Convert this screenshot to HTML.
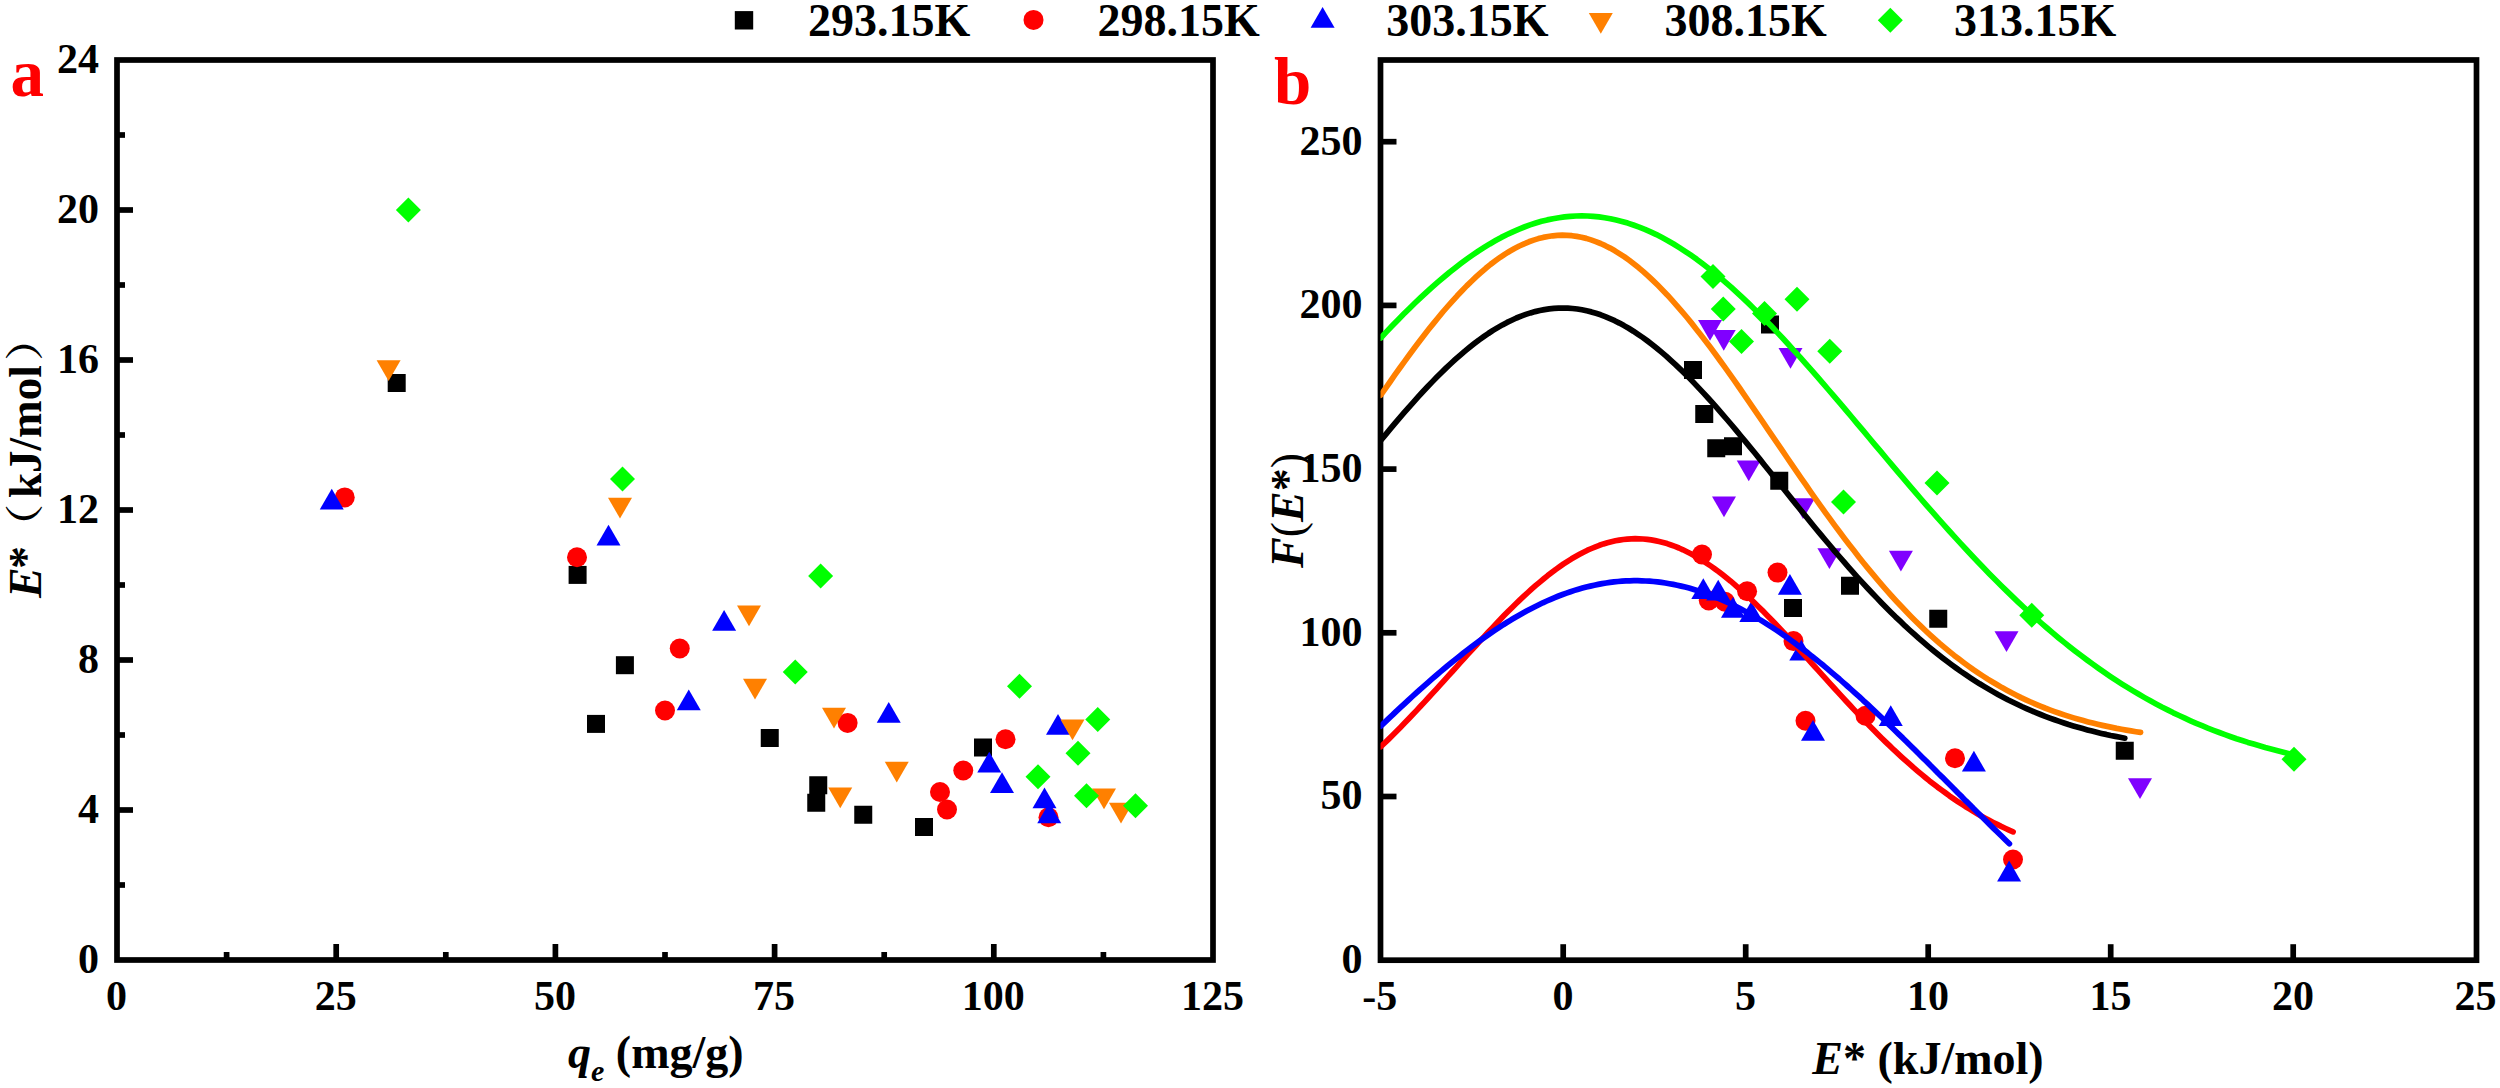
<!DOCTYPE html>
<html lang="en"><head><meta charset="utf-8"><title>E* vs q_e and F(E*) distribution</title>
<style>html,body{margin:0;padding:0;background:#fff}body{width:2500px;height:1088px;overflow:hidden}svg text{white-space:pre}</style>
</head><body>
<svg width="2500" height="1088" viewBox="0 0 2500 1088" style="display:block">
<rect width="2500" height="1088" fill="#ffffff"/>
<g id="pa-data">
<rect x="387.70" y="374.00" width="18.0" height="18.0" fill="#000000"/>
<rect x="568.60" y="565.90" width="18.0" height="18.0" fill="#000000"/>
<rect x="587.00" y="714.90" width="18.0" height="18.0" fill="#000000"/>
<rect x="615.90" y="656.20" width="18.0" height="18.0" fill="#000000"/>
<rect x="760.75" y="729.00" width="18.0" height="18.0" fill="#000000"/>
<rect x="809.25" y="776.25" width="18.0" height="18.0" fill="#000000"/>
<rect x="807.25" y="793.75" width="18.0" height="18.0" fill="#000000"/>
<rect x="854.25" y="805.75" width="18.0" height="18.0" fill="#000000"/>
<rect x="915.00" y="818.00" width="18.0" height="18.0" fill="#000000"/>
<rect x="974.00" y="738.50" width="18.0" height="18.0" fill="#000000"/>
<circle cx="344.75" cy="497.40" r="10.0" fill="#ff0000"/>
<circle cx="577.00" cy="557.25" r="10.0" fill="#ff0000"/>
<circle cx="665.00" cy="710.50" r="10.0" fill="#ff0000"/>
<circle cx="679.75" cy="648.50" r="10.0" fill="#ff0000"/>
<circle cx="847.60" cy="722.90" r="10.0" fill="#ff0000"/>
<circle cx="1005.50" cy="739.25" r="10.0" fill="#ff0000"/>
<circle cx="963.25" cy="770.50" r="10.0" fill="#ff0000"/>
<circle cx="940.00" cy="792.00" r="10.0" fill="#ff0000"/>
<circle cx="947.00" cy="809.50" r="10.0" fill="#ff0000"/>
<circle cx="1048.50" cy="817.25" r="10.0" fill="#ff0000"/>
<polygon points="331.75,488.75 319.75,509.55 343.75,509.55" fill="#0000ff"/>
<polygon points="608.50,524.75 596.50,545.55 620.50,545.55" fill="#0000ff"/>
<polygon points="724.10,610.00 712.10,630.80 736.10,630.80" fill="#0000ff"/>
<polygon points="688.75,689.50 676.75,710.30 700.75,710.30" fill="#0000ff"/>
<polygon points="888.75,702.00 876.75,722.80 900.75,722.80" fill="#0000ff"/>
<polygon points="1058.00,714.00 1046.00,734.80 1070.00,734.80" fill="#0000ff"/>
<polygon points="989.25,751.75 977.25,772.55 1001.25,772.55" fill="#0000ff"/>
<polygon points="1002.00,772.25 990.00,793.05 1014.00,793.05" fill="#0000ff"/>
<polygon points="1044.50,787.50 1032.50,808.30 1056.50,808.30" fill="#0000ff"/>
<polygon points="1049.25,802.50 1037.25,823.30 1061.25,823.30" fill="#0000ff"/>
<polygon points="376.60,360.20 400.60,360.20 388.60,381.00" fill="#ff8000"/>
<polygon points="608.00,497.75 632.00,497.75 620.00,518.55" fill="#ff8000"/>
<polygon points="737.00,605.50 761.00,605.50 749.00,626.30" fill="#ff8000"/>
<polygon points="743.00,678.75 767.00,678.75 755.00,699.55" fill="#ff8000"/>
<polygon points="822.00,707.75 846.00,707.75 834.00,728.55" fill="#ff8000"/>
<polygon points="1060.50,719.50 1084.50,719.50 1072.50,740.30" fill="#ff8000"/>
<polygon points="884.75,761.75 908.75,761.75 896.75,782.55" fill="#ff8000"/>
<polygon points="828.25,787.50 852.25,787.50 840.25,808.30" fill="#ff8000"/>
<polygon points="1092.00,788.50 1116.00,788.50 1104.00,809.30" fill="#ff8000"/>
<polygon points="1109.00,802.75 1133.00,802.75 1121.00,823.55" fill="#ff8000"/>
<polygon points="408.40,197.40 420.90,209.90 408.40,222.40 395.90,209.90" fill="#00ff00"/>
<polygon points="622.50,466.40 635.00,478.90 622.50,491.40 610.00,478.90" fill="#00ff00"/>
<polygon points="820.60,563.40 833.10,575.90 820.60,588.40 808.10,575.90" fill="#00ff00"/>
<polygon points="795.25,659.50 807.75,672.00 795.25,684.50 782.75,672.00" fill="#00ff00"/>
<polygon points="1019.50,673.75 1032.00,686.25 1019.50,698.75 1007.00,686.25" fill="#00ff00"/>
<polygon points="1097.75,707.00 1110.25,719.50 1097.75,732.00 1085.25,719.50" fill="#00ff00"/>
<polygon points="1078.00,740.75 1090.50,753.25 1078.00,765.75 1065.50,753.25" fill="#00ff00"/>
<polygon points="1038.00,764.25 1050.50,776.75 1038.00,789.25 1025.50,776.75" fill="#00ff00"/>
<polygon points="1086.50,783.25 1099.00,795.75 1086.50,808.25 1074.00,795.75" fill="#00ff00"/>
<polygon points="1135.50,793.25 1148.00,805.75 1135.50,818.25 1123.00,805.75" fill="#00ff00"/>
</g>
<g id="pb-data">
<rect x="1761.00" y="315.50" width="18.0" height="18.0" fill="#000000"/>
<rect x="1684.00" y="361.00" width="18.0" height="18.0" fill="#000000"/>
<rect x="1695.25" y="405.00" width="18.0" height="18.0" fill="#000000"/>
<rect x="1707.25" y="439.25" width="18.0" height="18.0" fill="#000000"/>
<rect x="1724.00" y="437.25" width="18.0" height="18.0" fill="#000000"/>
<rect x="1770.25" y="471.75" width="18.0" height="18.0" fill="#000000"/>
<rect x="1841.00" y="576.75" width="18.0" height="18.0" fill="#000000"/>
<rect x="1784.00" y="599.00" width="18.0" height="18.0" fill="#000000"/>
<rect x="1929.25" y="609.75" width="18.0" height="18.0" fill="#000000"/>
<rect x="2115.75" y="741.75" width="18.0" height="18.0" fill="#000000"/>
<circle cx="1702.00" cy="554.50" r="10.0" fill="#ff0000"/>
<circle cx="1777.50" cy="572.60" r="10.0" fill="#ff0000"/>
<circle cx="1747.10" cy="591.20" r="10.0" fill="#ff0000"/>
<circle cx="1708.75" cy="600.50" r="10.0" fill="#ff0000"/>
<circle cx="1725.00" cy="601.75" r="10.0" fill="#ff0000"/>
<circle cx="1793.50" cy="641.10" r="10.0" fill="#ff0000"/>
<circle cx="1805.50" cy="720.75" r="10.0" fill="#ff0000"/>
<circle cx="1865.50" cy="715.80" r="10.0" fill="#ff0000"/>
<circle cx="1955.00" cy="758.25" r="10.0" fill="#ff0000"/>
<circle cx="2013.00" cy="859.50" r="10.0" fill="#ff0000"/>
<polygon points="1703.30,578.30 1691.30,599.10 1715.30,599.10" fill="#0000ff"/>
<polygon points="1718.20,579.80 1706.20,600.60 1730.20,600.60" fill="#0000ff"/>
<polygon points="1789.90,573.90 1777.90,594.70 1801.90,594.70" fill="#0000ff"/>
<polygon points="1733.00,597.00 1721.00,617.80 1745.00,617.80" fill="#0000ff"/>
<polygon points="1751.30,601.30 1739.30,622.10 1763.30,622.10" fill="#0000ff"/>
<polygon points="1801.30,639.80 1789.30,660.60 1813.30,660.60" fill="#0000ff"/>
<polygon points="1813.00,720.00 1801.00,740.80 1825.00,740.80" fill="#0000ff"/>
<polygon points="1890.75,705.20 1878.75,726.00 1902.75,726.00" fill="#0000ff"/>
<polygon points="1973.90,750.75 1961.90,771.55 1985.90,771.55" fill="#0000ff"/>
<polygon points="2009.10,860.60 1997.10,881.40 2021.10,881.40" fill="#0000ff"/>
<polygon points="1698.00,320.00 1722.00,320.00 1710.00,340.80" fill="#8000ff"/>
<polygon points="1711.75,330.00 1735.75,330.00 1723.75,350.80" fill="#8000ff"/>
<polygon points="1778.50,348.00 1802.50,348.00 1790.50,368.80" fill="#8000ff"/>
<polygon points="1736.75,460.50 1760.75,460.50 1748.75,481.30" fill="#8000ff"/>
<polygon points="1712.00,496.50 1736.00,496.50 1724.00,517.30" fill="#8000ff"/>
<polygon points="1791.00,498.25 1815.00,498.25 1803.00,519.05" fill="#8000ff"/>
<polygon points="1817.40,548.30 1841.40,548.30 1829.40,569.10" fill="#8000ff"/>
<polygon points="1888.90,550.75 1912.90,550.75 1900.90,571.55" fill="#8000ff"/>
<polygon points="1994.50,631.25 2018.50,631.25 2006.50,652.05" fill="#8000ff"/>
<polygon points="2128.00,778.25 2152.00,778.25 2140.00,799.05" fill="#8000ff"/>
<polygon points="1713.00,264.00 1725.50,276.50 1713.00,289.00 1700.50,276.50" fill="#00ff00"/>
<polygon points="1723.25,296.50 1735.75,309.00 1723.25,321.50 1710.75,309.00" fill="#00ff00"/>
<polygon points="1741.50,329.00 1754.00,341.50 1741.50,354.00 1729.00,341.50" fill="#00ff00"/>
<polygon points="1764.50,301.00 1777.00,313.50 1764.50,326.00 1752.00,313.50" fill="#00ff00"/>
<polygon points="1797.00,286.75 1809.50,299.25 1797.00,311.75 1784.50,299.25" fill="#00ff00"/>
<polygon points="1829.75,338.75 1842.25,351.25 1829.75,363.75 1817.25,351.25" fill="#00ff00"/>
<polygon points="1937.00,470.40 1949.50,482.90 1937.00,495.40 1924.50,482.90" fill="#00ff00"/>
<polygon points="1843.50,489.50 1856.00,502.00 1843.50,514.50 1831.00,502.00" fill="#00ff00"/>
<polygon points="2031.75,602.75 2044.25,615.25 2031.75,627.75 2019.25,615.25" fill="#00ff00"/>
<polygon points="2294.00,746.75 2306.50,759.25 2294.00,771.75 2281.50,759.25" fill="#00ff00"/>
</g>
<g id="axes" stroke="#000" stroke-width="5.7" fill="none">
<rect x="117.0" y="60.0" width="1096.0" height="900.0" fill="none" stroke="#000" stroke-width="5.7"/>
<rect x="1380.5" y="60.0" width="1096.0" height="900.2" fill="none" stroke="#000" stroke-width="5.7"/>
<line x1="117.0" x2="125.0" y1="885.00" y2="885.00"/>
<line x1="117.0" x2="133.0" y1="810.00" y2="810.00"/>
<line x1="117.0" x2="125.0" y1="735.00" y2="735.00"/>
<line x1="117.0" x2="133.0" y1="660.00" y2="660.00"/>
<line x1="117.0" x2="125.0" y1="585.00" y2="585.00"/>
<line x1="117.0" x2="133.0" y1="510.00" y2="510.00"/>
<line x1="117.0" x2="125.0" y1="435.00" y2="435.00"/>
<line x1="117.0" x2="133.0" y1="360.00" y2="360.00"/>
<line x1="117.0" x2="125.0" y1="285.00" y2="285.00"/>
<line x1="117.0" x2="133.0" y1="210.00" y2="210.00"/>
<line x1="117.0" x2="125.0" y1="135.00" y2="135.00"/>
<line x1="226.60" x2="226.60" y1="960.0" y2="952.0"/>
<line x1="336.20" x2="336.20" y1="960.0" y2="944.0"/>
<line x1="445.80" x2="445.80" y1="960.0" y2="952.0"/>
<line x1="555.40" x2="555.40" y1="960.0" y2="944.0"/>
<line x1="665.00" x2="665.00" y1="960.0" y2="952.0"/>
<line x1="774.60" x2="774.60" y1="960.0" y2="944.0"/>
<line x1="884.20" x2="884.20" y1="960.0" y2="952.0"/>
<line x1="993.80" x2="993.80" y1="960.0" y2="944.0"/>
<line x1="1103.40" x2="1103.40" y1="960.0" y2="952.0"/>
<line x1="1380.5" x2="1396.5" y1="796.50" y2="796.50"/>
<line x1="1380.5" x2="1396.5" y1="632.80" y2="632.80"/>
<line x1="1380.5" x2="1396.5" y1="469.10" y2="469.10"/>
<line x1="1380.5" x2="1396.5" y1="305.40" y2="305.40"/>
<line x1="1380.5" x2="1396.5" y1="141.70" y2="141.70"/>
<line x1="1563.20" x2="1563.20" y1="960.2" y2="944.2"/>
<line x1="1745.70" x2="1745.70" y1="960.2" y2="944.2"/>
<line x1="1928.20" x2="1928.20" y1="960.2" y2="944.2"/>
<line x1="2110.70" x2="2110.70" y1="960.2" y2="944.2"/>
<line x1="2293.20" x2="2293.20" y1="960.2" y2="944.2"/>
</g>
<defs><clipPath id="clipb"><rect x="1380.50" y="60.00" width="1096.00" height="900.20"/></clipPath></defs>
<g id="pb-curves" fill="none" stroke-width="5.7" stroke-linecap="round" stroke-linejoin="round" clip-path="url(#clipb)">
<polyline points="1380.7,440.4 1385.4,434.8 1390.1,429.2 1394.7,423.6 1399.4,418.1 1404.1,412.7 1408.8,407.3 1413.5,402.1 1418.1,396.9 1422.8,391.8 1427.5,386.8 1432.2,381.9 1436.9,377.1 1441.5,372.5 1446.2,367.9 1450.9,363.5 1455.6,359.2 1460.3,355.1 1464.9,351.1 1469.6,347.3 1474.3,343.6 1479.0,340.0 1483.7,336.7 1488.3,333.5 1493.0,330.4 1497.7,327.6 1502.4,324.9 1507.1,322.4 1511.7,320.2 1516.4,318.0 1521.1,316.1 1525.8,314.4 1530.5,312.9 1535.1,311.6 1539.8,310.5 1544.5,309.6 1549.2,308.9 1553.9,308.4 1558.5,308.1 1563.2,308.0 1567.9,308.2 1572.6,308.5 1577.3,309.0 1581.9,309.8 1586.6,310.8 1591.3,311.9 1596.0,313.3 1600.7,314.8 1605.3,316.6 1610.0,318.6 1614.7,320.7 1619.4,323.1 1624.0,325.6 1628.7,328.3 1633.4,331.2 1638.1,334.3 1642.8,337.5 1647.4,340.9 1652.1,344.5 1656.8,348.2 1661.5,352.1 1666.2,356.1 1670.8,360.3 1675.5,364.6 1680.2,369.1 1684.9,373.6 1689.6,378.3 1694.2,383.1 1698.9,388.1 1703.6,393.1 1708.3,398.2 1713.0,403.4 1717.6,408.7 1722.3,414.1 1727.0,419.5 1731.7,425.0 1736.4,430.6 1741.0,436.2 1745.7,441.9 1750.4,447.6 1755.1,453.3 1759.8,459.1 1764.4,464.9 1769.1,470.7 1773.8,476.6 1778.5,482.4 1783.2,488.2 1787.8,494.1 1792.5,499.9 1797.2,505.7 1801.9,511.5 1806.6,517.3 1811.2,523.0 1815.9,528.7 1820.6,534.3 1825.3,540.0 1830.0,545.5 1834.6,551.1 1839.3,556.5 1844.0,561.9 1848.7,567.3 1853.4,572.6 1858.0,577.8 1862.7,582.9 1867.4,588.0 1872.1,593.0 1876.8,597.9 1881.4,602.7 1886.1,607.5 1890.8,612.2 1895.5,616.8 1900.2,621.2 1904.8,625.7 1909.5,630.0 1914.2,634.2 1918.9,638.4 1923.6,642.4 1928.2,646.4 1932.9,650.2 1937.6,654.0 1942.3,657.7 1947.0,661.3 1951.6,664.7 1956.3,668.1 1961.0,671.5 1965.7,674.7 1970.4,677.8 1975.0,680.8 1979.7,683.8 1984.4,686.6 1989.1,689.4 1993.8,692.1 1998.4,694.7 2003.1,697.2 2007.8,699.7 2012.5,702.0 2017.2,704.3 2021.8,706.5 2026.5,708.6 2031.2,710.6 2035.9,712.6 2040.6,714.5 2045.2,716.3 2049.9,718.1 2054.6,719.8 2059.3,721.4 2064.0,723.0 2068.6,724.5 2073.3,725.9 2078.0,727.3 2082.7,728.6 2087.4,729.9 2092.0,731.1 2096.7,732.3 2101.4,733.4 2106.1,734.4 2110.7,735.5 2115.4,736.4 2120.1,737.3 2124.8,738.2" stroke="#000000"/>
<polyline points="1380.7,746.8 1384.7,743.0 1388.7,739.1 1392.6,735.2 1396.6,731.2 1400.6,727.2 1404.6,723.1 1408.5,719.0 1412.5,714.8 1416.5,710.6 1420.5,706.3 1424.4,702.1 1428.4,697.8 1432.4,693.4 1436.4,689.1 1440.4,684.7 1444.3,680.3 1448.3,675.9 1452.3,671.5 1456.3,667.1 1460.2,662.7 1464.2,658.3 1468.2,653.9 1472.2,649.5 1476.2,645.2 1480.1,640.9 1484.1,636.6 1488.1,632.3 1492.1,628.1 1496.0,623.9 1500.0,619.7 1504.0,615.6 1508.0,611.6 1511.9,607.7 1515.9,603.8 1519.9,599.9 1523.9,596.2 1527.9,592.5 1531.8,588.9 1535.8,585.4 1539.8,582.1 1543.8,578.8 1547.7,575.6 1551.7,572.5 1555.7,569.5 1559.7,566.7 1563.6,563.9 1567.6,561.3 1571.6,558.8 1575.6,556.5 1579.6,554.3 1583.5,552.2 1587.5,550.2 1591.5,548.5 1595.5,546.8 1599.4,545.3 1603.4,543.9 1607.4,542.7 1611.4,541.7 1615.4,540.8 1619.3,540.1 1623.3,539.5 1627.3,539.1 1631.3,538.8 1635.2,538.7 1639.2,538.8 1643.2,539.0 1647.2,539.4 1651.1,539.9 1655.1,540.6 1659.1,541.5 1663.1,542.5 1667.1,543.6 1671.0,545.0 1675.0,546.4 1679.0,548.0 1683.0,549.8 1686.9,551.7 1690.9,553.7 1694.9,555.9 1698.9,558.2 1702.8,560.7 1706.8,563.3 1710.8,566.0 1714.8,568.8 1718.8,571.7 1722.7,574.8 1726.7,578.0 1730.7,581.2 1734.7,584.6 1738.6,588.1 1742.6,591.6 1746.6,595.3 1750.6,599.0 1754.5,602.8 1758.5,606.7 1762.5,610.6 1766.5,614.7 1770.5,618.7 1774.4,622.8 1778.4,627.0 1782.4,631.2 1786.4,635.5 1790.3,639.8 1794.3,644.1 1798.3,648.5 1802.3,652.8 1806.3,657.2 1810.2,661.6 1814.2,666.0 1818.2,670.4 1822.2,674.8 1826.1,679.2 1830.1,683.6 1834.1,688.0 1838.1,692.4 1842.0,696.7 1846.0,701.0 1850.0,705.3 1854.0,709.6 1858.0,713.8 1861.9,717.9 1865.9,722.1 1869.9,726.2 1873.9,730.2 1877.8,734.2 1881.8,738.2 1885.8,742.1 1889.8,745.9 1893.7,749.7 1897.7,753.4 1901.7,757.1 1905.7,760.7 1909.7,764.2 1913.6,767.7 1917.6,771.1 1921.6,774.4 1925.6,777.7 1929.5,780.9 1933.5,784.0 1937.5,787.1 1941.5,790.0 1945.5,792.9 1949.4,795.8 1953.4,798.6 1957.4,801.3 1961.4,803.9 1965.3,806.5 1969.3,808.9 1973.3,811.4 1977.3,813.7 1981.2,816.0 1985.2,818.2 1989.2,820.3 1993.2,822.4 1997.2,824.4 2001.1,826.4 2005.1,828.3 2009.1,830.1 2013.1,831.8" stroke="#ff0000"/>
<polyline points="1380.7,726.2 1384.7,722.4 1388.6,718.6 1392.6,714.9 1396.5,711.1 1400.5,707.4 1404.4,703.8 1408.4,700.1 1412.3,696.5 1416.3,692.9 1420.2,689.3 1424.2,685.8 1428.2,682.3 1432.1,678.9 1436.1,675.5 1440.0,672.1 1444.0,668.8 1447.9,665.5 1451.9,662.3 1455.8,659.1 1459.8,655.9 1463.7,652.8 1467.7,649.8 1471.6,646.8 1475.6,643.8 1479.6,640.9 1483.5,638.1 1487.5,635.3 1491.4,632.6 1495.4,629.9 1499.3,627.3 1503.3,624.7 1507.2,622.3 1511.2,619.8 1515.1,617.5 1519.1,615.2 1523.0,613.0 1527.0,610.8 1531.0,608.7 1534.9,606.7 1538.9,604.7 1542.8,602.8 1546.8,601.0 1550.7,599.3 1554.7,597.6 1558.6,596.0 1562.6,594.5 1566.5,593.1 1570.5,591.7 1574.5,590.4 1578.4,589.2 1582.4,588.1 1586.3,587.0 1590.3,586.1 1594.2,585.2 1598.2,584.4 1602.1,583.6 1606.1,583.0 1610.0,582.4 1614.0,581.9 1618.0,581.5 1621.9,581.2 1625.9,580.9 1629.8,580.8 1633.8,580.7 1637.7,580.7 1641.7,580.8 1645.6,581.0 1649.6,581.2 1653.5,581.5 1657.5,581.9 1661.4,582.4 1665.4,583.0 1669.4,583.7 1673.3,584.4 1677.3,585.2 1681.2,586.1 1685.2,587.1 1689.1,588.1 1693.1,589.3 1697.0,590.5 1701.0,591.8 1704.9,593.2 1708.9,594.6 1712.8,596.1 1716.8,597.7 1720.8,599.4 1724.7,601.1 1728.7,602.9 1732.6,604.8 1736.6,606.8 1740.5,608.8 1744.5,610.9 1748.4,613.1 1752.4,615.3 1756.3,617.6 1760.3,619.9 1764.3,622.4 1768.2,624.9 1772.2,627.4 1776.1,630.0 1780.1,632.7 1784.0,635.4 1788.0,638.2 1791.9,641.0 1795.9,643.9 1799.8,646.9 1803.8,649.9 1807.8,652.9 1811.7,656.1 1815.7,659.2 1819.6,662.4 1823.6,665.6 1827.5,668.9 1831.5,672.3 1835.4,675.6 1839.4,679.0 1843.3,682.5 1847.3,686.0 1851.2,689.5 1855.2,693.1 1859.2,696.6 1863.1,700.3 1867.1,703.9 1871.0,707.6 1875.0,711.3 1878.9,715.0 1882.9,718.8 1886.8,722.6 1890.8,726.4 1894.7,730.2 1898.7,734.1 1902.7,737.9 1906.6,741.8 1910.6,745.7 1914.5,749.6 1918.5,753.5 1922.4,757.4 1926.4,761.3 1930.3,765.3 1934.3,769.2 1938.2,773.2 1942.2,777.1 1946.1,781.1 1950.1,785.1 1954.1,789.0 1958.0,793.0 1962.0,796.9 1965.9,800.9 1969.9,804.8 1973.8,808.8 1977.8,812.7 1981.7,816.6 1985.7,820.6 1989.6,824.5 1993.6,828.4 1997.6,832.2 2001.5,836.1 2005.5,840.0 2009.4,843.8" stroke="#0000ff"/>
<polyline points="1380.7,395.2 1385.5,388.3 1390.3,381.5 1395.0,374.7 1399.8,368.0 1404.6,361.3 1409.4,354.8 1414.2,348.3 1418.9,342.0 1423.7,335.7 1428.5,329.6 1433.3,323.6 1438.1,317.8 1442.8,312.0 1447.6,306.5 1452.4,301.1 1457.2,295.8 1462.0,290.8 1466.7,285.9 1471.5,281.2 1476.3,276.7 1481.1,272.4 1485.8,268.3 1490.6,264.4 1495.4,260.8 1500.2,257.3 1505.0,254.1 1509.7,251.2 1514.5,248.5 1519.3,246.0 1524.1,243.8 1528.9,241.8 1533.6,240.1 1538.4,238.6 1543.2,237.4 1548.0,236.5 1552.8,235.8 1557.5,235.4 1562.3,235.2 1567.1,235.3 1571.9,235.7 1576.7,236.4 1581.4,237.3 1586.2,238.4 1591.0,239.9 1595.8,241.6 1600.6,243.5 1605.3,245.7 1610.1,248.1 1614.9,250.8 1619.7,253.8 1624.5,256.9 1629.2,260.3 1634.0,264.0 1638.8,267.8 1643.6,271.9 1648.3,276.1 1653.1,280.6 1657.9,285.3 1662.7,290.2 1667.5,295.2 1672.2,300.4 1677.0,305.8 1681.8,311.3 1686.6,317.0 1691.4,322.9 1696.1,328.9 1700.9,335.0 1705.7,341.2 1710.5,347.5 1715.3,354.0 1720.0,360.5 1724.8,367.2 1729.6,373.9 1734.4,380.6 1739.2,387.5 1743.9,394.4 1748.7,401.3 1753.5,408.3 1758.3,415.3 1763.1,422.3 1767.8,429.3 1772.6,436.4 1777.4,443.4 1782.2,450.4 1787.0,457.5 1791.7,464.4 1796.5,471.4 1801.3,478.3 1806.1,485.2 1810.8,492.1 1815.6,498.9 1820.4,505.6 1825.2,512.3 1830.0,518.9 1834.7,525.4 1839.5,531.8 1844.3,538.2 1849.1,544.5 1853.9,550.6 1858.6,556.7 1863.4,562.7 1868.2,568.6 1873.0,574.4 1877.8,580.1 1882.5,585.6 1887.3,591.1 1892.1,596.5 1896.9,601.7 1901.7,606.8 1906.4,611.8 1911.2,616.7 1916.0,621.5 1920.8,626.1 1925.6,630.7 1930.3,635.1 1935.1,639.4 1939.9,643.6 1944.7,647.6 1949.5,651.6 1954.2,655.4 1959.0,659.1 1963.8,662.7 1968.6,666.2 1973.3,669.6 1978.1,672.8 1982.9,676.0 1987.7,679.1 1992.5,682.0 1997.2,684.8 2002.0,687.6 2006.8,690.2 2011.6,692.8 2016.4,695.2 2021.1,697.6 2025.9,699.8 2030.7,702.0 2035.5,704.1 2040.3,706.1 2045.0,708.0 2049.8,709.8 2054.6,711.6 2059.4,713.3 2064.2,714.9 2068.9,716.4 2073.7,717.9 2078.5,719.3 2083.3,720.6 2088.1,721.9 2092.8,723.1 2097.6,724.3 2102.4,725.4 2107.2,726.4 2112.0,727.4 2116.7,728.4 2121.5,729.3 2126.3,730.1 2131.1,730.9 2135.9,731.7 2140.6,732.4" stroke="#ff8000"/>
<polyline points="1380.7,338.0 1386.4,331.9 1392.2,325.8 1397.9,319.9 1403.7,314.1 1409.4,308.4 1415.2,302.8 1420.9,297.4 1426.6,292.1 1432.4,286.9 1438.1,281.9 1443.9,277.0 1449.6,272.2 1455.4,267.7 1461.1,263.3 1466.9,259.0 1472.6,255.0 1478.3,251.1 1484.1,247.4 1489.8,243.9 1495.6,240.6 1501.3,237.4 1507.1,234.5 1512.8,231.8 1518.5,229.3 1524.3,227.0 1530.0,224.9 1535.8,223.0 1541.5,221.3 1547.3,219.9 1553.0,218.7 1558.8,217.7 1564.5,216.9 1570.2,216.3 1576.0,216.0 1581.7,215.9 1587.5,216.0 1593.2,216.4 1599.0,216.9 1604.7,217.7 1610.4,218.7 1616.2,220.0 1621.9,221.4 1627.7,223.1 1633.4,225.0 1639.2,227.1 1644.9,229.4 1650.6,231.9 1656.4,234.6 1662.1,237.6 1667.9,240.7 1673.6,244.0 1679.4,247.6 1685.1,251.3 1690.9,255.2 1696.6,259.2 1702.3,263.5 1708.1,267.9 1713.8,272.5 1719.6,277.2 1725.3,282.1 1731.1,287.1 1736.8,292.3 1742.5,297.6 1748.3,303.1 1754.0,308.7 1759.8,314.4 1765.5,320.2 1771.3,326.1 1777.0,332.1 1782.8,338.3 1788.5,344.5 1794.2,350.8 1800.0,357.1 1805.7,363.6 1811.5,370.1 1817.2,376.7 1823.0,383.3 1828.7,390.0 1834.4,396.7 1840.2,403.4 1845.9,410.2 1851.7,417.0 1857.4,423.8 1863.2,430.7 1868.9,437.5 1874.6,444.3 1880.4,451.2 1886.1,458.0 1891.9,464.8 1897.6,471.6 1903.4,478.4 1909.1,485.1 1914.9,491.8 1920.6,498.5 1926.3,505.1 1932.1,511.6 1937.8,518.2 1943.6,524.6 1949.3,531.0 1955.1,537.4 1960.8,543.6 1966.5,549.8 1972.3,556.0 1978.0,562.0 1983.8,568.0 1989.5,573.9 1995.3,579.7 2001.0,585.4 2006.8,591.1 2012.5,596.6 2018.2,602.1 2024.0,607.5 2029.7,612.7 2035.5,617.9 2041.2,623.0 2047.0,628.0 2052.7,632.9 2058.4,637.7 2064.2,642.4 2069.9,647.0 2075.7,651.5 2081.4,655.8 2087.2,660.1 2092.9,664.3 2098.6,668.4 2104.4,672.4 2110.1,676.3 2115.9,680.1 2121.6,683.8 2127.4,687.4 2133.1,690.9 2138.9,694.3 2144.6,697.6 2150.3,700.8 2156.1,703.9 2161.8,707.0 2167.6,709.9 2173.3,712.8 2179.1,715.5 2184.8,718.2 2190.5,720.8 2196.3,723.3 2202.0,725.7 2207.8,728.1 2213.5,730.3 2219.3,732.5 2225.0,734.6 2230.8,736.7 2236.5,738.7 2242.2,740.5 2248.0,742.4 2253.7,744.1 2259.5,745.8 2265.2,747.5 2271.0,749.0 2276.7,750.5 2282.4,752.0 2288.2,753.4 2293.9,754.7" stroke="#00ff00"/>
</g>
<g id="labels" font-family='"Liberation Serif","Noto Serif CJK SC",serif' font-weight="bold" fill="#000">
<g font-size="42" text-anchor="end">
<text x="99" y="972.80">0</text>
<text x="99" y="822.80">4</text>
<text x="99" y="672.80">8</text>
<text x="99" y="522.80">12</text>
<text x="99" y="372.80">16</text>
<text x="99" y="222.80">20</text>
<text x="99" y="72.80">24</text>
<text x="1362.5" y="973.00">0</text>
<text x="1362.5" y="809.30">50</text>
<text x="1362.5" y="645.60">100</text>
<text x="1362.5" y="481.90">150</text>
<text x="1362.5" y="318.20">200</text>
<text x="1362.5" y="154.50">250</text>
</g>
<g font-size="42" text-anchor="middle">
<text x="116.50" y="1010">0</text>
<text x="335.70" y="1010">25</text>
<text x="554.90" y="1010">50</text>
<text x="774.10" y="1010">75</text>
<text x="993.30" y="1010">100</text>
<text x="1212.50" y="1010">125</text>
<text x="1379.70" y="1010">-5</text>
<text x="1562.90" y="1010">0</text>
<text x="1745.40" y="1010">5</text>
<text x="1927.90" y="1010">10</text>
<text x="2110.40" y="1010">15</text>
<text x="2292.90" y="1010">20</text>
<text x="2475.40" y="1010">25</text>
</g>
<g font-size="46">
<text x="568" y="1068"><tspan font-style="italic">q</tspan><tspan font-style="italic" font-size="30" dy="13">e</tspan><tspan dy="-13"> (mg/g)</tspan></text>
<text x="1928" y="1073.6" text-anchor="middle"><tspan font-style="italic">E</tspan>* (kJ/mol)</text>
<g transform="translate(40.5,598) rotate(-90)">
<text x="0" y="0" font-style="italic">E</text>
<text x="29" y="0">*</text>
<text transform="translate(48.1,-2.9) scale(1.2,1)" font-family='"Noto Serif CJK SC",serif' font-weight="600" font-size="38.5">（</text>
<text x="99.9" y="0" textLength="132.9" lengthAdjust="spacingAndGlyphs">kJ/mol</text>
<text transform="translate(237.1,-2.9) scale(1.2,1)" font-family='"Noto Serif CJK SC",serif' font-weight="600" font-size="38.5">）</text>
</g>
<text transform="translate(1303,510.5) rotate(-90)" text-anchor="middle"><tspan font-style="italic">F</tspan><tspan font-weight="normal">(</tspan><tspan font-style="italic">E</tspan>*<tspan font-weight="normal">)</tspan></text>
</g>
<g font-size="67" fill="#ff0000"><text x="10.5" y="95.7">a</text><text x="1274" y="104.4">b</text></g>
<g font-size="46">
<text x="808" y="35.8">293.15K</text>
<text x="1097.5" y="35.8">298.15K</text>
<text x="1386.3" y="35.8">303.15K</text>
<text x="1664.6" y="35.8">308.15K</text>
<text x="1954" y="35.8">313.15K</text>
</g>
</g>
<g id="legend-marks">
<rect x="734.80" y="11.10" width="18.4" height="18.4" fill="#000000"/>
<circle cx="1033.50" cy="19.90" r="10.0" fill="#ff0000"/>
<polygon points="1322.60,7.00 1310.60,27.80 1334.60,27.80" fill="#0000ff"/>
<polygon points="1588.80,13.00 1612.80,13.00 1600.80,33.80" fill="#ff8000"/>
<polygon points="1890.30,7.70 1902.80,20.20 1890.30,32.70 1877.80,20.20" fill="#00ff00"/>
</g>
</svg>
</body></html>
